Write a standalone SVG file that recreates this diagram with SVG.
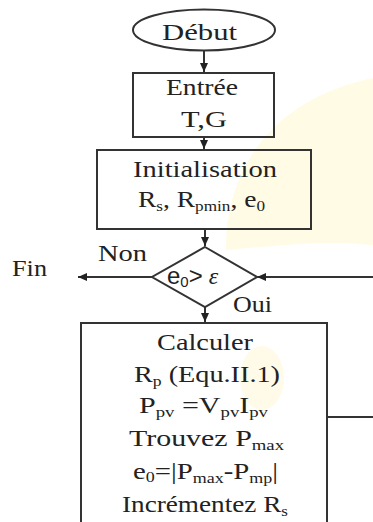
<svg xmlns="http://www.w3.org/2000/svg" width="373" height="522" viewBox="0 0 373 522">
<defs>
<style>
.shape{fill:none;stroke:#333;stroke-width:2}
.conn{fill:none;stroke:#333;stroke-width:2}
.t{font-family:"Liberation Serif","Times New Roman",serif;font-size:24px;fill:#222}
.s{font-size:15px}
.sans{font-family:"Liberation Sans",Arial,sans-serif}
</style>
<marker id="arr" markerUnits="userSpaceOnUse" markerWidth="10" markerHeight="8" refX="9" refY="4" orient="auto">
<path d="M0,0 L9,4 L0,8 Z" fill="#222"/>
</marker>
</defs>
<rect width="373" height="522" fill="#fff"/>
<path d="M226,250 C226,170 270,100 373,78 L373,245 C330,240 280,245 226,250 Z" fill="#fffbe4"/>
<ellipse cx="262" cy="378" rx="22" ry="32" fill="#fffbe8"/>

<g id="connectors">
<path class="conn" d="M204,50 V72" marker-end="url(#arr)"/>
<path class="conn" d="M204,137 V149" marker-end="url(#arr)"/>
<path class="conn" d="M205,229 V246" marker-end="url(#arr)"/>
<path class="conn" d="M152,277 H78" marker-end="url(#arr)"/>
<path class="conn" d="M327,417 H385 V277 H257" marker-end="url(#arr)"/>
<path class="conn" d="M205,307 V322" marker-end="url(#arr)"/>
</g>

<g id="debut">
<ellipse class="shape" cx="204" cy="30" rx="71" ry="20.5"/>
<text class="t" x="162" y="40" font-size="25" textLength="75" lengthAdjust="spacingAndGlyphs">Début</text>
</g>

<g id="entree">
<rect class="shape" x="133" y="73" width="141" height="64"/>
<text class="t" x="166" y="95" textLength="72" lengthAdjust="spacingAndGlyphs">Entrée</text>
<text class="t" x="181" y="127" textLength="46" lengthAdjust="spacingAndGlyphs">T,G</text>
</g>

<g id="init">
<rect class="shape" x="97" y="150" width="214" height="79"/>
<text class="t" x="133" y="177" textLength="144" lengthAdjust="spacingAndGlyphs">Initialisation</text>
<text class="t" x="138" y="207" textLength="127" lengthAdjust="spacingAndGlyphs">R<tspan class="s" dy="4">s</tspan><tspan dy="-4">, R</tspan><tspan class="s" dy="4">pmin</tspan><tspan dy="-4">, e</tspan><tspan class="s" dy="4">0</tspan></text>
</g>

<g id="decision">
<polygon class="shape" points="205,247 257,277 205,307 152,277"/>
<text class="t sans" x="167" y="284" font-size="21">e<tspan font-size="15" dy="3">0</tspan><tspan dy="-3">&gt;</tspan><tspan font-family="Liberation Serif,serif" font-style="italic" dx="6">ε</tspan></text>
<text class="t" x="98" y="261" textLength="49" lengthAdjust="spacingAndGlyphs">Non</text>
<text class="t" x="233" y="312" textLength="39" lengthAdjust="spacingAndGlyphs">Oui</text>
</g>

<g id="fin">
<text class="t" x="12" y="276" textLength="35" lengthAdjust="spacingAndGlyphs">Fin</text>
</g>

<g id="calculer">
<rect class="shape" x="81" y="323" width="246" height="220"/>
<text class="t" x="157" y="350" textLength="96" lengthAdjust="spacingAndGlyphs">Calculer</text>
<text class="t" x="134" y="382" textLength="146" lengthAdjust="spacingAndGlyphs">R<tspan class="s" dy="4">p</tspan><tspan dy="-4">  (Equ.II.1)</tspan></text>
<text class="t" x="139" y="413" textLength="129" lengthAdjust="spacingAndGlyphs">P<tspan class="s" dy="4">pv</tspan><tspan dy="-4"> =V</tspan><tspan class="s" dy="4">pv</tspan><tspan dy="-4">I</tspan><tspan class="s" dy="4">pv</tspan></text>
<text class="t" x="129" y="446" textLength="155" lengthAdjust="spacingAndGlyphs">Trouvez P<tspan class="s" dy="4">max</tspan></text>
<text class="t" x="133" y="479" textLength="145" lengthAdjust="spacingAndGlyphs">e<tspan class="s" dy="3">0</tspan><tspan dy="-3">=|P</tspan><tspan class="s" dy="4">max</tspan><tspan dy="-4">-P</tspan><tspan class="s" dy="4">mp</tspan><tspan dy="-4">|</tspan></text>
<text class="t" x="122" y="512" textLength="166" lengthAdjust="spacingAndGlyphs">Incrémentez R<tspan class="s" dy="4">s</tspan></text>
</g>
</svg>
